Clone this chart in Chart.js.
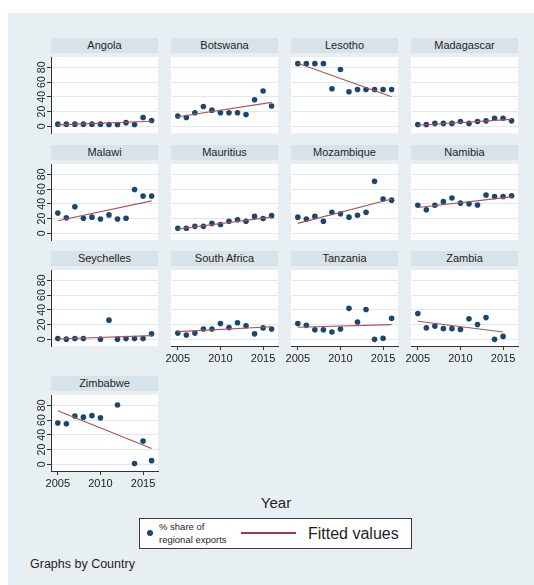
<!DOCTYPE html>
<html>
<head>
<meta charset="utf-8">
<title>% share of regional exports by country</title>
<script src="https://cdn.jsdelivr.net/npm/chart.js@4.4.1/dist/chart.umd.min.js"></script>
<style>
  html, body { margin: 0; padding: 0; background: #ffffff; }
  #page { position: relative; width: 534px; height: 585px; overflow: hidden;
          font-family: "Liberation Sans", Arial, sans-serif; }
  #region { position: absolute; left: 8px; top: 13px; width: 526px; height: 572px; background: #e8eff2; }
  .strip { position: absolute; height: 15px; line-height: 15px; background: #d8e3e9;
           color: #1e1e1e; font-size: 11px; text-align: center; white-space: nowrap; }
  canvas.panel { position: absolute; }
  .txt { position: absolute; white-space: nowrap; color: #1e1e1e; }
  #legend { position: absolute; left: 139px; top: 518px; width: 273px; height: 31px;
            box-sizing: border-box; border: 1px solid #3c3c3c; background: #ffffff; }
  #legDot { position: absolute; left: 147px; top: 530px; width: 6px; height: 6px;
            border-radius: 50%; background: #1a476f; }
  #legLine { position: absolute; left: 241px; top: 532px; width: 55px; height: 2px; background: #9a3a42; }
</style>
</head>
<body>
<div id="page">
  <div id="region"></div>
  <div id="panels"></div>
  <div class="txt" id="xTitle" style="left:256px; top:494px; font-size:15px; width:40px; text-align:center;">Year</div>
  <div id="legend"></div>
  <div id="legDot"></div>
  <div class="txt" style="left:159px; top:520px; font-size:9.5px; line-height:13px;">% share of<br>regional exports</div>
  <div id="legLine"></div>
  <div class="txt" style="left:308px; top:524px; font-size:16px; line-height:19px;">Fitted values</div>
  <div class="txt" style="left:30px; top:557px; font-size:12.5px; line-height:14px;">Graphs by Country</div>
</div>
<script>
// Years observed in every panel
const years = [2005, 2006, 2007, 2008, 2009, 2010, 2011, 2012, 2013, 2014, 2015, 2016];

// Country order of the panels
const countries = ['Angola', 'Botswana', 'Lesotho', 'Madagascar', 'Malawi', 'Mauritius',
                   'Mozambique', 'Namibia', 'Seychelles', 'South Africa', 'Tanzania', 'Zambia', 'Zimbabwe'];

// % share of regional exports, one array per country (null = no observation)
const angola      = [3, 3, 3, 3, 3, 3, 2.5, 2.5, 5, 2.5, 12, 8];
const botswana    = [14, 12, 18.5, 27, 22, 18.5, 18.5, 18.5, 16, 36, 48, 27.5];
const lesotho     = [85, 85, 85, 85, 51, 77, 47, 50, 50, 50, 50, 50];
const madagascar  = [2.5, 2.5, 4, 4, 4, 6.5, 4, 6.5, 7.5, 11, 11, 7.5];
const malawi      = [27.5, 21, 36, 20.5, 22, 19.5, 25, 19.5, 20.5, 59.5, 50.5, 50.5];
const mauritius   = [7, 7, 9.5, 9.5, 13.5, 12, 16.5, 18.5, 16.5, 23, 20, 24];
const mozambique  = [22, 19.5, 23, 16.5, 28.5, 26.5, 22, 24.5, 28.5, 70.5, 46.5, 45];
const namibia     = [38, 32, 38, 43, 48, 41, 40, 38.5, 52, 50, 50, 51];
const seychelles  = [1, 0.3, 1, 1, null, 0.3, 26, 0.3, 1, 1, 1, 7.5];
const southAfrica = [8.5, 6, 8.5, 14, 14, 21.5, 16, 22.5, 18.5, 7.5, 15.5, 14];
const tanzania    = [21.5, 19, 13, 13, 10, 14, 42, 23.5, 40.5, 0, 1.5, 28.5];
const zambia      = [35, 15.5, 18, 14.5, 14.5, 13.5, 28, 20, 29.5, 0, 4, null];
const zimbabwe    = [56, 55, 65.5, 64, 66, 63, null, 80.5, null, 1, 31.5, 5];

const shares = [angola, botswana, lesotho, madagascar, malawi, mauritius,
                mozambique, namibia, seychelles, southAfrica, tanzania, zambia, zimbabwe];

// Fitted values at the first and last observed year of each country
const fitStart = [2, 13, 85.5, 1.5, 17, 6, 13.5, 35, 0.5, 10.5, 16.5, 24.5, 72.5];
const fitEnd   = [7, 32.5, 40, 9.5, 44, 22, 46.5, 49.5, 5, 17, 20, 10, 21.5];

// Axis ticks
const xTicks = [2005, 2010, 2015];
const xTickLabels = ['2005', '2010', '2015'];
const yTicks = [0, 20, 40, 60, 80];
const yTickLabels = ['0', '20', '40', '60', '80'];

const FONT = '"Liberation Sans", Arial, sans-serif';
const MARKER = '#1a476f';
const FIT = '#ae5258';
const GRID = '#dfe8ec';
const AXIS = '#333333';

// panel geometry
const PLOT_W = 107, PLOT_H = 80, LEFT_SPACE = 40, BOTTOM_SPACE = 24, RIGHT_PAD = 8;
const colLefts = [51, 171, 291, 411];
const rowTops = [53, 160, 266, 391];
const bottomPanels = ['South Africa', 'Tanzania', 'Zambia', 'Zimbabwe'];

// white plot region
const plotBackground = {
  id: 'plotBackground',
  beforeDraw(chart) {
    const a = chart.chartArea, ctx = chart.ctx;
    ctx.save();
    ctx.fillStyle = '#ffffff';
    ctx.fillRect(a.left, a.top, a.right - a.left, a.bottom - a.top);
    ctx.restore();
  }
};

// vertical (rotated) y tick labels on the left column
const rotatedYLabels = {
  id: 'rotatedYLabels',
  afterDraw(chart, args, opts) {
    if (!opts.show) return;
    const s = chart.scales.y, ctx = chart.ctx;
    ctx.save();
    ctx.font = '10.5px ' + FONT;
    ctx.fillStyle = '#222222';
    ctx.textAlign = 'center';
    ctx.textBaseline = 'middle';
    s.ticks.forEach((t, i) => {
      const y = s.getPixelForValue(t.value);
      ctx.save();
      ctx.translate(s.right - 9, y);
      ctx.rotate(-Math.PI / 2);
      ctx.fillText(yTickLabels[i], 0, 0);
      ctx.restore();
    });
    ctx.restore();
  }
};

const panelsDiv = document.getElementById('panels');

countries.forEach((name, idx) => {
  const r = Math.floor(idx / 4), c = idx % 4;
  const left = colLefts[c], top = rowTops[r];
  const showY = c === 0;
  const showX = bottomPanels.includes(name);

  const strip = document.createElement('div');
  strip.className = 'strip';
  strip.style.left = left + 'px';
  strip.style.top = (top - 15) + 'px';
  strip.style.width = PLOT_W + 'px';
  strip.textContent = name;
  panelsDiv.appendChild(strip);

  const canvas = document.createElement('canvas');
  canvas.className = 'panel';
  const cw = LEFT_SPACE + PLOT_W + RIGHT_PAD, ch = PLOT_H + BOTTOM_SPACE;
  canvas.width = cw; canvas.height = ch;
  canvas.style.width = cw + 'px'; canvas.style.height = ch + 'px';
  canvas.style.left = (left - LEFT_SPACE) + 'px';
  canvas.style.top = top + 'px';
  panelsDiv.appendChild(canvas);

  const vals = shares[idx];
  const points = [];
  years.forEach((yr, i) => { if (vals[i] !== null) points.push({ x: yr, y: vals[i] }); });
  const firstYear = points[0].x, lastYear = points[points.length - 1].x;

  new Chart(canvas, {
    type: 'scatter',
    data: {
      datasets: [
        {
          label: 'Fitted values',
          data: [{ x: firstYear, y: fitStart[idx] }, { x: lastYear, y: fitEnd[idx] }],
          showLine: true,
          borderColor: FIT,
          borderWidth: 1.1,
          pointRadius: 0,
          order: 0
        },
        {
          label: '% share of regional exports',
          data: points,
          pointStyle: 'circle',
          pointRadius: 2.8,
          backgroundColor: MARKER,
          borderWidth: 0,
          order: 1
        }
      ]
    },
    options: {
      responsive: false,
      animation: false,
      devicePixelRatio: 1,
      events: [],
      layout: { padding: { left: 0, right: RIGHT_PAD, top: 0, bottom: 0 } },
      plugins: {
        legend: { display: false },
        tooltip: { enabled: false },
        rotatedYLabels: { show: showY }
      },
      scales: {
        x: {
          type: 'linear',
          min: 2004.2,
          max: 2016.75,
          afterBuildTicks: s => { s.ticks = xTicks.map(v => ({ value: v })); },
          afterFit: s => { s.height = BOTTOM_SPACE; },
          grid: { display: showX, drawOnChartArea: false, drawTicks: true, tickLength: 4, tickColor: AXIS },
          border: { display: showX, color: AXIS, width: 1 },
          ticks: {
            display: showX, padding: 2, color: '#222222', maxRotation: 0, autoSkip: false,
            font: { size: 11, family: FONT },
            callback: (v, i) => xTickLabels[i]
          }
        },
        y: {
          type: 'linear',
          min: -9,
          max: 94,
          afterBuildTicks: s => { s.ticks = yTicks.map(v => ({ value: v })); },
          afterFit: s => { s.width = LEFT_SPACE; },
          grid: { color: GRID, lineWidth: 1, drawTicks: showY, tickLength: 4, tickColor: AXIS },
          border: { display: showY, color: AXIS, width: 1 },
          ticks: { display: false }
        }
      }
    },
    plugins: [plotBackground, rotatedYLabels]
  });
});
</script>
</body>
</html>
